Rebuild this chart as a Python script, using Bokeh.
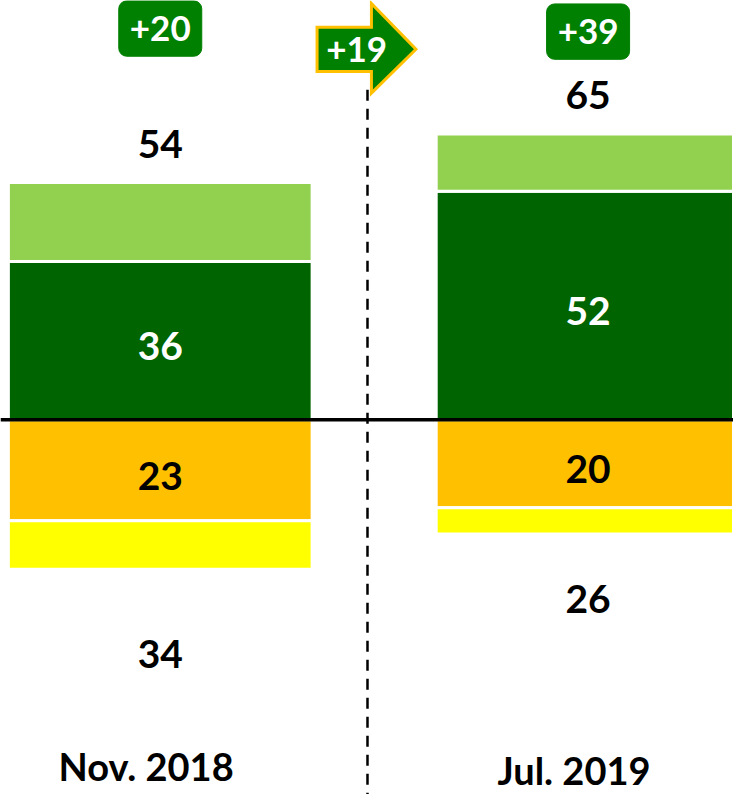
from bokeh.plotting import figure
from bokeh.models import Span, Range1d
from bokeh.core.properties import value
from bokeh.embed import file_html
from bokeh.resources import INLINE

# ---- data ----
periods = ["Nov. 2018", "Jul. 2019"]
strong_pos = [36, 52]   # dark green
weak_pos = [18, 13]     # light green
strong_neg = [23, 20]   # orange
weak_neg = [11, 6]      # yellow

pos_total = [a + b for a, b in zip(strong_pos, weak_pos)]
neg_total = [a + b for a, b in zip(strong_neg, weak_neg)]
net = [a - b for a, b in zip(pos_total, neg_total)]
change = net[1] - net[0]

xs = list(range(len(periods)))

# ---- colours / layout ----
DARK_GREEN = "#006400"
LIGHT_GREEN = "#92D050"
ORANGE = "#FFC000"
YELLOW = "#FFFF00"
BADGE = "#008000"
FONT = value("Lato")

W, H = 733, 794
BAR_W = 0.71

p = figure(width=W, height=H,
           x_range=Range1d(-0.3734, 1.3399), y_range=Range1d(-85.25, 95.38),
           output_backend="svg", toolbar_location=None,
           x_axis_location=None, y_axis_location=None, min_border=0)
p.grid.visible = False
p.outline_line_color = None
p.background_fill_color = "white"
p.border_fill_color = "white"

# bars
p.vbar(x=xs, width=BAR_W, bottom=0, top=strong_pos, fill_color=DARK_GREEN,
       line_color="white", line_width=3)
p.vbar(x=xs, width=BAR_W, bottom=strong_pos, top=pos_total, fill_color=LIGHT_GREEN,
       line_color="white", line_width=3)
p.vbar(x=xs, width=BAR_W, top=0, bottom=[-v for v in strong_neg], fill_color=ORANGE,
       line_color="white", line_width=3)
p.vbar(x=xs, width=BAR_W, top=[-v for v in strong_neg], bottom=[-v for v in neg_total],
       fill_color=YELLOW, line_color="white", line_width=3)

# baseline
p.add_layout(Span(location=0, dimension="width", line_color="black", line_width=3.5))

# dashed divider
div_x = 0.4844
p.segment(x0=[div_x], y0=[75.1], x1=[div_x], y1=[-85.25], line_color="black",
          line_width=2.5, line_dash="11 8")

# value labels
def label(x, y, txt, color="black", size="39px"):
    p.text(x=x, y=y, text=txt, text_font=FONT, text_font_style="bold",
           text_font_size=size, text_align="center", text_baseline="middle",
           text_color=color)

label(xs, [v / 2 - 1.3 for v in strong_pos], [str(v) for v in strong_pos], color="white")
label(xs, [v + 8.8 for v in pos_total], [str(v) for v in pos_total])
label(xs, [-v / 2 - 1.3 for v in strong_neg], [str(v) for v in strong_neg])
label(xs, [-v * 1.567 for v in neg_total], [str(v) for v in neg_total])

# category labels
label([x - 0.033 for x in xs], [-78.8, -79.6], periods, size="38px")

# net badges
badge_y = [89.0, 88.3]
badge_h = 12.6
p.quad(left=[x - 0.097 for x in xs], right=[x + 0.097 for x in xs],
       bottom=[y - badge_h / 2 for y in badge_y], top=[y + badge_h / 2 for y in badge_y],
       fill_color=BADGE, line_color=BADGE, line_width=1, border_radius=8)
label(xs, badge_y, ["+%d" % v for v in net], color="white", size="35px")

# change arrow
ax0, ax1, ax2 = 0.3665, 0.4936, 0.5977
ay = 84.3
p.patch(x=[ax0, ax1, ax1, ax2, ax1, ax1, ax0],
        y=[ay + 5.0, ay + 5.0, ay + 10.4, ay, ay - 10.0, ay - 5.1, ay - 5.1],
        fill_color=BADGE, line_color=ORANGE, line_width=3, line_join="miter")
label([0.459], [ay], ["+%d" % change], color="white", size="35px")

open("out.html", "w").write(file_html(p, INLINE))
